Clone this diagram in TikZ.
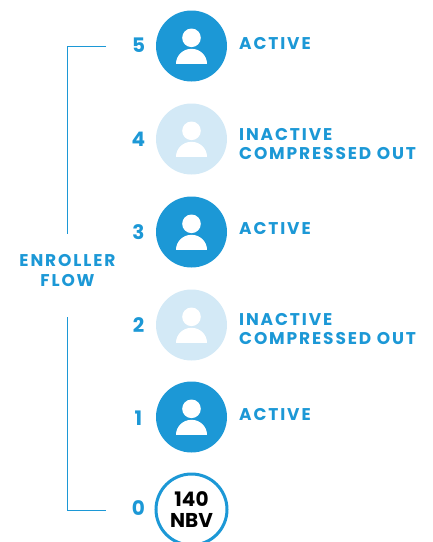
\documentclass[tikz,border=0pt]{standalone}
\usepackage{fontspec}
\setmainfont{Poppins}[UprightFont=* Bold,BoldFont=* Bold]
\newfontfamily\spaced{Poppins}[UprightFont=* Bold,LetterSpace=11]
\definecolor{flowblue}{HTML}{1C98D6}
\definecolor{paleblue}{HTML}{D3E9F6}
\tikzset{
  x=1pt,y=-1pt,
  disc/.style={circle,minimum size=71pt,inner sep=0pt,fill=#1},
  numlabel/.style={text=flowblue,font=\fontsize{20}{20}\selectfont,anchor=center,inner sep=0pt},
  statelabel/.style={text=flowblue,font=\spaced\fontsize{17}{19}\selectfont,anchor=west,align=left,inner sep=0pt},
  flowline/.style={draw=flowblue,line width=0.8pt},
}
\newcommand{\personicon}[2]{%
  \fill[#2] (#1) ++(0,-8.2) circle[radius=9.3];
  \fill[#2] (#1) ++(-15.5,17.8) arc[start angle=180,end angle=360,x radius=15.5,y radius=15] -- cycle;
}
\begin{document}
\begin{tikzpicture}
\useasboundingbox (0,0) rectangle (433,542);
\foreach \nm/\yy/\ny/\col/\num in {e/46/45.5/flowblue/5,d/139/139/paleblue/4,c/232/232.5/flowblue/3,b/325/325/paleblue/2,a/417/418/flowblue/1}{
  \node[disc=\col] (p\nm) at (191.5,\yy) {};
  \personicon{p\nm.center}{white}
  \node[numlabel] (n\nm) at (138.5,\ny) {\num};
}
\node[numlabel] (nz) at (138.5,508.5) {0};
\node[circle,draw=flowblue,line width=3pt,fill=white,minimum size=71pt,inner sep=0pt,align=center,font=\fontsize{20}{21}\selectfont] (pz) at (191.5,509.5) {140\\NBV};
\node[statelabel] (s5) at (239,43.5) {ACTIVE};
\node[statelabel] (s4) at (239,144) {INACTIVE\\COMPRESSED OUT};
\node[statelabel] (s3) at (239,228.5) {ACTIVE};
\node[statelabel] (s2) at (239,329) {INACTIVE\\COMPRESSED OUT};
\node[statelabel] (s1) at (239,414.5) {ACTIVE};
\node[text=flowblue,font=\spaced\fontsize{17}{20}\selectfont,align=center,inner sep=0pt] (flow) at (67.5,271) {ENROLLER\\FLOW};
\coordinate (topend) at (106,46);
\coordinate (botend) at (106,510);
\coordinate (topcorner) at (67.5,46);
\coordinate (botcorner) at (67.5,510);
\coordinate (upstop) at (67.5,234);
\coordinate (downstart) at (67.5,317);
\draw[flowline] (topend) -- (topcorner) -- (upstop);
\draw[flowline] (downstart) -- (botcorner) -- (botend);
\end{tikzpicture}
\end{document}
